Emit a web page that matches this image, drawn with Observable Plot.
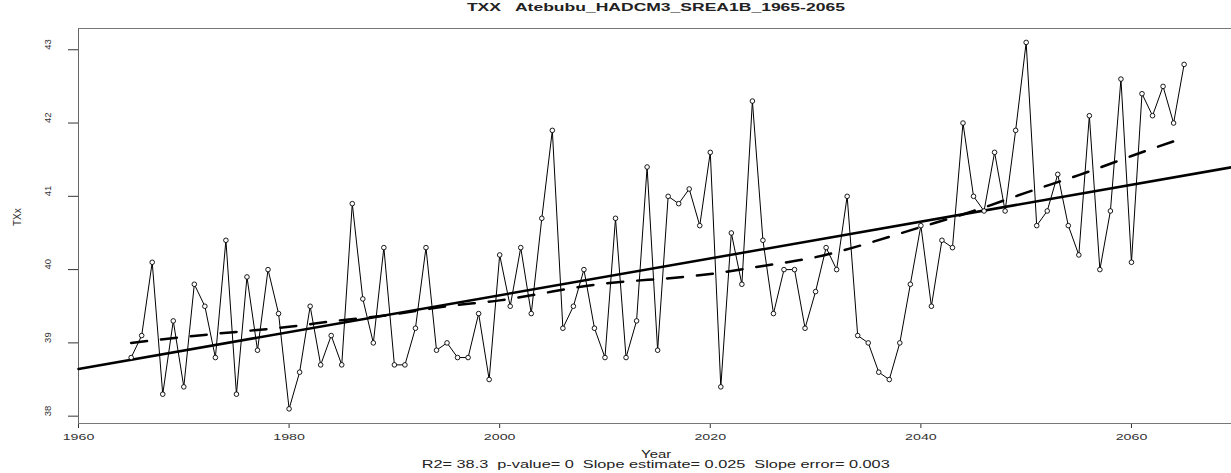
<!DOCTYPE html>
<html><head><meta charset="utf-8">
<script src="https://cdn.jsdelivr.net/npm/d3@7"></script>
<script src="https://cdn.jsdelivr.net/npm/@observablehq/plot@0.6"></script>
<style>
body{margin:0;background:#fff;font-family:"Liberation Sans",Arial,sans-serif;}
#wrap{position:relative;width:1231px;height:473px;overflow:hidden;background:#fff;}
#wrap svg{position:absolute;left:0;top:0;}
.row{position:absolute;left:0;width:1312px;text-align:center;white-space:nowrap;line-height:10px;height:10px;}
.row span{display:inline-block;vertical-align:top;line-height:10px;transform-origin:center;color:#222;}
</style></head><body><div id="wrap"></div>
<script>
// ---- data ----
const titleText = "TXX   Atebubu_HADCM3_SREA1B_1965-2065";
const xLabel = "Year";
const yLabel = "TXx";
const statsText = "R2= 38.3  p-value= 0  Slope estimate= 0.025  Slope error= 0.003";
const xTicks = [1960, 1980, 2000, 2020, 2040, 2060];
const yTicks = [38, 39, 40, 41, 42, 43];

const years = [
 1965,1966,1967,1968,1969,1970,1971,1972,1973,1974,
 1975,1976,1977,1978,1979,1980,1981,1982,1983,1984,
 1985,1986,1987,1988,1989,1990,1991,1992,1993,1994,
 1995,1996,1997,1998,1999,2000,2001,2002,2003,2004,
 2005,2006,2007,2008,2009,2010,2011,2012,2013,2014,
 2015,2016,2017,2018,2019,2020,2021,2022,2023,2024,
 2025,2026,2027,2028,2029,2030,2031,2032,2033,2034,
 2035,2036,2037,2038,2039,2040,2041,2042,2043,2044,
 2045,2046,2047,2048,2049,2050,2051,2052,2053,2054,
 2055,2056,2057,2058,2059,2060,2061,2062,2063,2064,2065];
const txx = [
 38.8,39.1,40.1,38.3,39.3,38.4,39.8,39.5,38.8,40.4,
 38.3,39.9,38.9,40.0,39.4,38.1,38.6,39.5,38.7,39.1,
 38.7,40.9,39.6,39.0,40.3,38.7,38.7,39.2,40.3,38.9,
 39.0,38.8,38.8,39.4,38.5,40.2,39.5,40.3,39.4,40.7,
 41.9,39.2,39.5,40.0,39.2,38.8,40.7,38.8,39.3,41.4,
 38.9,41.0,40.9,41.1,40.6,41.6,38.4,40.5,39.8,42.3,
 40.4,39.4,40.0,40.0,39.2,39.7,40.3,40.0,41.0,39.1,
 39.0,38.6,38.5,39.0,39.8,40.6,39.5,40.4,40.3,42.0,
 41.0,40.8,41.6,40.8,41.9,43.1,40.6,40.8,41.3,40.6,
 40.2,42.1,40.0,40.8,42.6,40.1,42.4,42.1,42.5,42.0,42.8];

// smooth (dashed) curve
const smoothYears = [1965,1970,1975,1980,1985,1990,1995,2000,2005,2010,2015,2020,2025,2030,2035,2040,2045,2050,2055,2060,2065];
const smoothVals  = [39.00,39.08,39.15,39.22,39.31,39.39,39.50,39.58,39.70,39.81,39.87,39.94,40.05,40.17,40.36,40.58,40.80,41.05,41.29,41.55,41.80];

// ---- build tables ----
const series = years.map((y, i) => ({year: y, value: txx[i]}));
const smooth = smoothYears.map((y, i) => ({year: y, value: smoothVals[i]}));

// least-squares fit of the series (drawn across the whole frame, like abline)
const mx = d3.mean(years), my = d3.mean(txx);
const slope = d3.sum(years, (x, i) => (x - mx) * (txx[i] - my)) / d3.sum(years, x => (x - mx) ** 2);
const icpt = my - slope * mx;
const xDomain = [1960, 2069.5];
const yDomain = [37.9, 43.29];
const reg = xDomain.map(x => ({year: x, value: icpt + slope * x}));

const chart = Plot.plot({
  width: 1231, height: 473,
  marginLeft: 78, marginRight: 0, marginTop: 28, marginBottom: 50,
  style: {fontFamily: "'Liberation Sans', Arial, sans-serif", fontSize: "9.5px", color: "#333", background: "white", overflow: "visible"},
  x: {domain: xDomain, ticks: xTicks, tickFormat: d => String(d), tickSize: 5, tickPadding: 5, label: null},
  y: {domain: yDomain, ticks: yTicks, tickSize: 10, tickFormat: () => "", label: null},
  marks: [
    Plot.ruleX([xDomain[0]], {stroke: "#666", strokeWidth: 1}),
    Plot.ruleY(yDomain, {stroke: "#777", strokeWidth: 1}),
    Plot.line(series, {x: "year", y: "value", stroke: "#000", strokeWidth: 1}),
    Plot.line(reg, {x: "year", y: "value", stroke: "#000", strokeWidth: 2.5}),
    Plot.line(smooth, {x: "year", y: "value", stroke: "#000", strokeWidth: 2.5, strokeDasharray: "16,14", curve: "natural"}),
    Plot.dot(series, {x: "year", y: "value", r: 2.3, fill: "white", stroke: "#000", strokeWidth: 0.9}),
    Plot.text(yTicks, {y: d => d, text: d => String(d), frameAnchor: "left", dx: -31, rotate: -90, fill: "#333", fontSize: 9.5}),
    Plot.text([yLabel], {text: d => d, frameAnchor: "left", dx: -61, rotate: -90, fill: "#333", fontSize: 10})
  ]
});
const wrap = document.getElementById("wrap");
wrap.appendChild(chart);

// stretch the x tick labels horizontally like the source image
chart.querySelectorAll("text").forEach(t => {
  if (/^\d{4}$/.test(t.textContent.trim())) {
    const w = t.getComputedTextLength();
    t.setAttribute("textLength", (w * 1.5).toFixed(1));
    t.setAttribute("lengthAdjust", "spacingAndGlyphs");
  }
});

function addRow(text, top, size, bold, targetWidth) {
  const row = document.createElement("div");
  row.className = "row";
  row.style.top = top + "px";
  const s = document.createElement("span");
  s.textContent = text;
  s.style.fontSize = size + "px";
  s.style.fontWeight = bold ? "bold" : "normal";
  s.style.whiteSpace = "pre";
  row.appendChild(s);
  wrap.appendChild(row);
  const w = s.getBoundingClientRect().width;
  s.style.transform = `scaleX(${targetWidth / w})`;
}
addRow(titleText, 3, 10, true, 378);
addRow(xLabel, 450, 10, false, 30);
addRow(statsText, 460, 10, false, 468);
</script></body></html>
